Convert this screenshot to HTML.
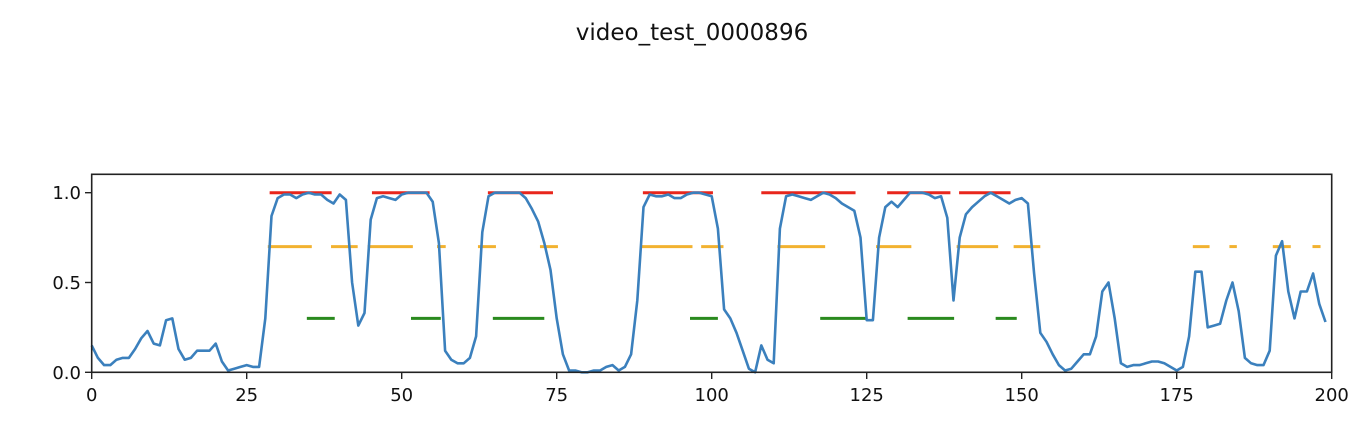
<!DOCTYPE html>
<html><head><meta charset="utf-8"><style>
html,body{margin:0;padding:0;background:#fff;}
svg{display:block;font-family:"DejaVu Sans","Liberation Sans",sans-serif;}
</style></head><body>
<svg id="chart" width="1372" height="422">
<text x="692" y="40" text-anchor="middle" font-size="23" fill="#111">video_test_0000896</text>
<g id="marks"></g>
<rect x="91.7" y="174.3" width="1240" height="198" fill="none" stroke="#222" stroke-width="1.6"/>
<g id="axes"></g>
</svg>
<script>
const scores=[0.15,0.08,0.04,0.04,0.07,0.08,0.08,0.13,0.19,0.23,0.16,0.15,0.29,0.3,0.13,0.07,0.08,0.12,0.12,0.12,0.16,0.06,0.01,0.02,0.03,0.04,0.03,0.03,0.3,0.87,0.97,0.99,0.99,0.97,0.99,1.0,0.99,0.99,0.96,0.94,0.99,0.96,0.5,0.26,0.33,0.85,0.97,0.98,0.97,0.96,0.99,1.0,1.0,1.0,1.0,0.95,0.72,0.12,0.07,0.05,0.05,0.08,0.2,0.78,0.98,1.0,1.0,1.0,1.0,1.0,0.97,0.91,0.84,0.72,0.57,0.3,0.1,0.01,0.01,0.0,0.0,0.01,0.01,0.03,0.04,0.01,0.03,0.1,0.4,0.92,0.99,0.98,0.98,0.99,0.97,0.97,0.99,1.0,1.0,0.99,0.98,0.8,0.35,0.3,0.22,0.12,0.02,0.0,0.15,0.07,0.05,0.8,0.98,0.99,0.98,0.97,0.96,0.98,1.0,0.99,0.97,0.94,0.92,0.9,0.75,0.29,0.29,0.75,0.92,0.95,0.92,0.96,1.0,1.0,1.0,0.99,0.97,0.98,0.86,0.4,0.75,0.88,0.92,0.95,0.98,1.0,0.98,0.96,0.94,0.96,0.97,0.94,0.55,0.22,0.17,0.1,0.04,0.01,0.02,0.06,0.1,0.1,0.2,0.45,0.5,0.3,0.05,0.03,0.04,0.04,0.05,0.06,0.06,0.05,0.03,0.01,0.03,0.2,0.56,0.56,0.25,0.26,0.27,0.4,0.5,0.34,0.08,0.05,0.04,0.04,0.12,0.65,0.73,0.45,0.3,0.45,0.45,0.55,0.38,0.28];
const redSegs=[[28.7,38.7],[45.2,54.5],[63.9,74.4],[88.9,100.2],[108,123.2],[128.3,138.5],[139.9,148.2]];
const orangeSegs=[[28.4,35.5],[38.6,42.9],[44.5,51.8],[55.7,57.1],[62.3,65.2],[72.3,75.2],[88.6,96.9],[98.3,101.9],[110.6,118.3],[126.5,132.2],[139.5,146.2],[148.7,153.0],[177.6,180.3],[183.5,184.7],[190.5,193.4],[196.9,198.2]];
const greenSegs=[[34.7,39.2],[51.5,56.3],[64.7,73],[96.5,101],[117.5,125.1],[131.6,139.1],[145.8,149.2]];
const segLevels=[1.0,0.7,0.3];
const xTicks=[0,25,50,75,100,125,150,175,200];
const yTicks=[0.0,0.5,1.0];
const yTickLabels=["0.0","0.5","1.0"];

const NS="http://www.w3.org/2000/svg";
const X=v=>91.7+v*(1331.7-91.7)/200;
const Y=v=>372.3-v*179.6;
const marks=document.getElementById('marks');
const axes=document.getElementById('axes');
function mk(tag,attrs,parent){const e=document.createElementNS(NS,tag);for(const k in attrs)e.setAttribute(k,attrs[k]);parent.appendChild(e);return e;}
const groups=[[redSegs,'#e8261c','red-segment'],[orangeSegs,'#f2b230','orange-segment'],[greenSegs,'#2a8a1e','green-segment']];
groups.forEach((g,i)=>{g[0].forEach(s=>{
  const l=mk('line',{x1:X(s[0]),x2:X(s[1]),y1:Y(segLevels[i]),y2:Y(segLevels[i]),stroke:g[1],'stroke-width':3},marks);
  
  
});});
const pts=scores.map((v,i)=>X(i).toFixed(1)+','+Y(v).toFixed(1)).join(' ');
const pl=mk('polyline',{points:pts,fill:'none',stroke:'#3b80bd','stroke-width':2.6,'stroke-linejoin':'round'},marks);


xTicks.forEach(t=>{
  const l=mk('line',{x1:X(t),x2:X(t),y1:372.3,y2:379,stroke:'#222','stroke-width':1.4},axes);
  
  
  const tx=mk('text',{x:X(t),y:401,'text-anchor':'middle','font-size':18,fill:'#111'},axes);
  tx.textContent=t;
  
  
});
yTicks.forEach((t,i)=>{
  const l=mk('line',{x1:85,x2:91.7,y1:Y(t),y2:Y(t),stroke:'#222','stroke-width':1.4},axes);
  
  
  const tx=mk('text',{x:81,y:Y(t)+6.5,'text-anchor':'end','font-size':18,fill:'#111'},axes);
  tx.textContent=yTickLabels[i];
  
  
});
</script>
</body></html>
